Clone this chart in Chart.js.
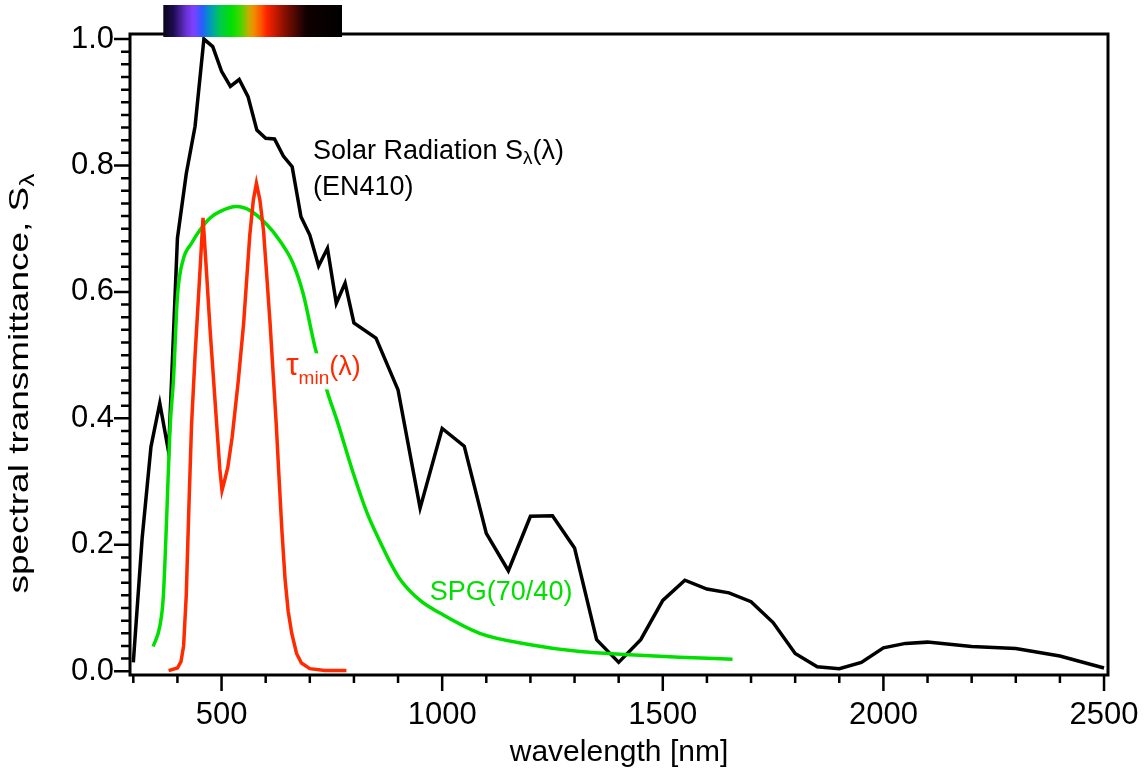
<!DOCTYPE html>
<html>
<head>
<meta charset="utf-8">
<script src="https://cdn.jsdelivr.net/npm/chart.js@4.4.0/dist/chart.umd.min.js"></script>
<style>
  html, body { margin: 0; padding: 0; background: #fff; }
</style>
</head>
<body>
<canvas id="spectrum" width="1146" height="773"></canvas>
<script>
// Solar radiation S(lambda) after EN410, normalised to its maximum
const solarNm = [300, 320, 340, 360, 380, 400, 420, 440, 460, 480, 500, 520, 540, 560, 580, 600, 620, 640, 660, 680,
    700, 720, 740, 760, 780, 800, 850, 900, 950, 1000, 1050, 1100, 1150, 1200, 1250, 1300, 1350, 1400, 1450, 1500,
    1550, 1600, 1650, 1700, 1750, 1800, 1850, 1900, 1950, 2000, 2050, 2100, 2200, 2300, 2400, 2500];
const solarVal = [0.014, 0.21, 0.355, 0.424, 0.347, 0.685, 0.787, 0.862, 1.0, 0.988, 0.949, 0.925, 0.936, 0.909, 0.856, 0.843, 0.842, 0.815, 0.798, 0.719,
    0.690, 0.641, 0.669, 0.582, 0.614, 0.551, 0.527, 0.445, 0.258, 0.384, 0.356, 0.218, 0.159, 0.245, 0.246, 0.195, 0.050, 0.014, 0.050, 0.112,
    0.144, 0.130, 0.124, 0.110, 0.077, 0.028, 0.007, 0.004, 0.014, 0.037, 0.044, 0.046, 0.039, 0.036, 0.024, 0.005];

// SPG(70/40) glazing transmittance
const spgNm = [345, 360, 368, 376, 383, 391, 400, 413, 432, 451, 474, 496, 534, 564, 602, 632, 662, 685, 712, 742,
    761, 800, 830, 859, 880, 904, 950, 995, 1085, 1200, 1312, 1425, 1538, 1658];
const spgVal = [0.039, 0.071, 0.118, 0.25, 0.382, 0.461, 0.593, 0.651, 0.677, 0.698, 0.717, 0.727, 0.735, 0.729, 0.707, 0.681, 0.645, 0.597, 0.512, 0.437,
    0.398, 0.31, 0.25, 0.205, 0.175, 0.146, 0.112, 0.092, 0.060, 0.042, 0.031, 0.026, 0.022, 0.019];

// minimum required transmittance tau_min(lambda)
const tauNm = [380, 400, 408, 414, 420, 426, 432, 440, 450, 458, 466, 474, 482, 490, 496, 501, 507, 514, 524, 538,
    550, 564, 572, 579, 587, 595, 602, 610, 617, 624, 630, 637, 644, 651, 659, 670, 681, 700, 734, 783];
const tauVal = [0.001, 0.005, 0.015, 0.04, 0.12, 0.26, 0.39, 0.50, 0.62, 0.717, 0.63, 0.54, 0.46, 0.38, 0.32, 0.286, 0.302, 0.322, 0.37, 0.46,
    0.55, 0.69, 0.745, 0.772, 0.745, 0.698, 0.63, 0.55, 0.47, 0.39, 0.31, 0.22, 0.145, 0.095, 0.06, 0.028, 0.013, 0.004, 0.001, 0.001];

const xTicks = [500, 1000, 1500, 2000, 2500];
const yTicks = [0.0, 0.2, 0.4, 0.6, 0.8, 1.0];

// colour bar of the visible spectrum: [wavelength nm, colour]
const rainbowStops = [[368, '#0c0418'], [391, '#1e0c50'], [421, '#6a32d8'], [436, '#8040ff'], [456, '#2a5cff'],
    [468, '#0888d0'], [481, '#00a8a0'], [496, '#00c850'], [523, '#00e000'], [542, '#40d800'], [561, '#c0b000'],
    [572, '#f09000'], [591, '#ff5000'], [602, '#ff2400'], [640, '#901000'], [678, '#300404'], [693, '#100000'], [773, '#000000']];

const FONT = '"Liberation Sans", Arial, sans-serif';
const GREEN = '#00e000';
const RED = '#ff2a00';

function pairs(xs, ys) {
    return xs.map((x, i) => ({ x: x, y: ys[i] }));
}

function drawRich(ctx, x, y, parts, color) {
    ctx.fillStyle = color;
    ctx.textAlign = 'left';
    ctx.textBaseline = 'alphabetic';
    parts.forEach(p => {
        ctx.font = p.size + 'px ' + FONT;
        ctx.fillText(p.text, x, y + (p.dy || 0));
        x += ctx.measureText(p.text).width;
    });
    return x;
}

function richWidth(ctx, parts) {
    let w = 0;
    parts.forEach(p => {
        ctx.font = p.size + 'px ' + FONT;
        w += ctx.measureText(p.text).width;
    });
    return w;
}

// curve labels, placed in data units
const curveLabels = [
    { nm: 707, val: 0.81, color: '#000', parts: [{ text: 'Solar Radiation S', size: 27 }, { text: 'λ', size: 19, dy: 5 }, { text: '(λ)', size: 27 }] },
    { nm: 707, val: 0.754, color: '#000', parts: [{ text: '(EN410)', size: 27 }] },
    { nm: 646, val: 0.468, color: RED, knockout: true, parts: [{ text: 'τ', size: 32 }, { text: 'min', size: 19, dy: 9 }, { text: '(λ)', size: 27 }] },
    { nm: 972, val: 0.113, color: GREEN, parts: [{ text: 'SPG(70/40)', size: 27 }] }
];

const labelsPlugin = {
    id: 'curveLabels',
    afterDatasetsDraw(chart) {
        const { ctx, scales: { x, y } } = chart;
        ctx.save();
        curveLabels.forEach(l => {
            const px = x.getPixelForValue(l.nm);
            const py = y.getPixelForValue(l.val);
            if (l.knockout) {
                ctx.fillStyle = '#fff';
                ctx.fillRect(px - 2, py - 22, richWidth(ctx, l.parts) + 4, 36);
            }
            drawRich(ctx, px, py, l.parts, l.color);
        });
        ctx.restore();
    }
};

const axisFrame = {
    id: 'axisFrame',
    afterDraw(chart) {
        const { ctx, chartArea: a, scales: { x, y } } = chart;
        ctx.save();
        ctx.strokeStyle = '#000';
        ctx.lineWidth = 2.5;
        ctx.beginPath();
        for (let v = 300; v <= 2500; v += 100) {
            const px = x.getPixelForValue(v);
            ctx.moveTo(px, a.bottom);
            ctx.lineTo(px, a.bottom + (v % 500 === 0 ? 16 : 8));
        }
        for (let i = 0; i <= 50; i++) {
            const py = y.getPixelForValue(i * 0.02);
            ctx.moveTo(a.left, py);
            ctx.lineTo(a.left - (i % 10 === 0 ? 16 : 9), py);
        }
        ctx.stroke();
        ctx.lineWidth = 3;
        ctx.strokeRect(a.left, a.top, a.right - a.left, a.bottom - a.top);

        // axis titles
        ctx.fillStyle = '#000';
        ctx.font = '30px ' + FONT;
        ctx.textAlign = 'center';
        ctx.textBaseline = 'alphabetic';
        ctx.fillText('wavelength [nm]', (a.left + a.right) / 2, a.bottom + 86);

        const yParts = [{ text: 'spectral transmittance, S', size: 28 }, { text: 'λ', size: 20, dy: 6 }];
        const w = richWidth(ctx, yParts);
        ctx.translate(a.left - 102, y.getPixelForValue(0.455));
        ctx.rotate(-Math.PI / 2);
        ctx.scale(1.32, 1);
        drawRich(ctx, -w / 2, 0, yParts, '#000');
        ctx.restore();

        // colour bar of the visible range above the frame
        const x0 = x.getPixelForValue(rainbowStops[0][0]);
        const x1 = x.getPixelForValue(rainbowStops[rainbowStops.length - 1][0]);
        const grad = ctx.createLinearGradient(x0, 0, x1, 0);
        rainbowStops.forEach(s => grad.addColorStop((x.getPixelForValue(s[0]) - x0) / (x1 - x0), s[1]));
        ctx.fillStyle = grad;
        ctx.fillRect(x0, a.top - 29, x1 - x0, 32);
    }
};

const ctx = document.getElementById('spectrum').getContext('2d');
new Chart(ctx, {
    type: 'line',
    data: {
        datasets: [
            {
                label: 'tau_min',
                data: pairs(tauNm, tauVal),
                borderColor: RED,
                borderWidth: 3.5,
                pointRadius: 0,
                tension: 0,
                order: 0
            },
            {
                label: 'SPG(70/40)',
                data: pairs(spgNm, spgVal),
                borderColor: GREEN,
                borderWidth: 3.5,
                pointRadius: 0,
                cubicInterpolationMode: 'monotone',
                order: 1
            },
            {
                label: 'Solar radiation',
                data: pairs(solarNm, solarVal),
                borderColor: '#000',
                borderWidth: 3.5,
                pointRadius: 0,
                tension: 0,
                order: 2
            }
        ]
    },
    options: {
        responsive: false,
        animation: false,
        layout: { padding: { left: 0, right: 38, top: 34, bottom: 0 } },
        plugins: { legend: { display: false }, tooltip: { enabled: false } },
        scales: {
            x: {
                type: 'linear',
                min: 292.5,
                max: 2509,
                grid: { display: false, tickLength: 16 },
                border: { display: false },
                ticks: { color: '#000', font: { family: FONT, size: 31 }, padding: 6, maxRotation: 0, autoSkip: false,
                    callback: v => String(v) },
                afterBuildTicks: scale => { scale.ticks = xTicks.map(v => ({ value: v })); },
                afterFit: scale => { scale.height = 98; }
            },
            y: {
                type: 'linear',
                min: -0.006,
                max: 1.008,
                grid: { display: false, tickLength: 16 },
                border: { display: false },
                ticks: { color: '#000', font: { family: FONT, size: 31 }, padding: 0, callback: v => v.toFixed(1) },
                afterBuildTicks: scale => { scale.ticks = yTicks.map(v => ({ value: v })); },
                afterFit: scale => { scale.width = 130; }
            }
        }
    },
    plugins: [labelsPlugin, axisFrame]
});
</script>
</body>
</html>
